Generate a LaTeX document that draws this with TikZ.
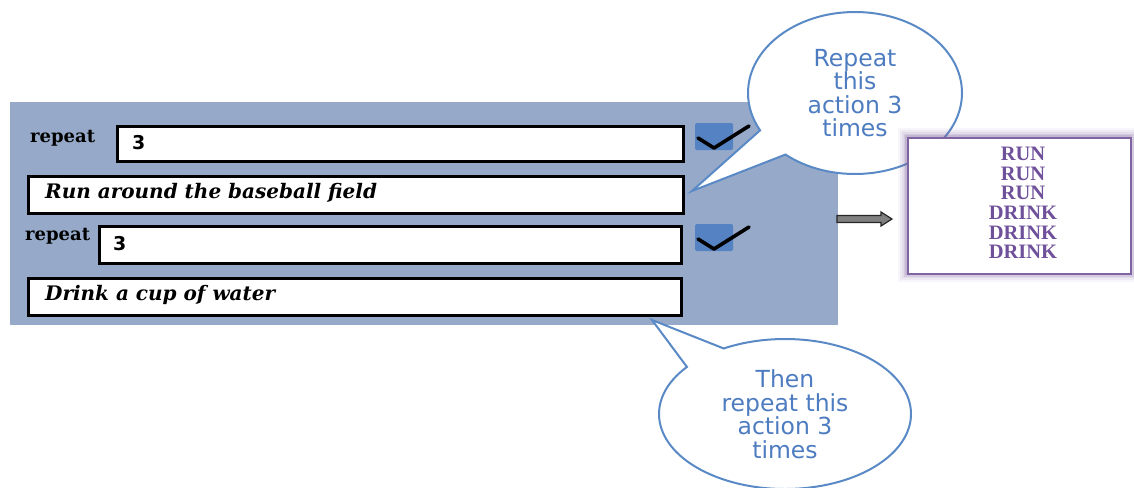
\documentclass[tikz,border=0pt]{standalone}
\usepackage{fontspec}
\setmainfont{Liberation Serif}
\newfontfamily\calloutfont{DejaVu Sans}
\newfontfamily\boxserif{DejaVu Serif}
\usetikzlibrary{shapes.callouts,calc}
\definecolor{panelblue}{HTML}{96A9C9}
\definecolor{calloutblue}{HTML}{5A8AC6}
\definecolor{callouttext}{HTML}{4E7CC0}
\definecolor{checkblue}{HTML}{5482C2}
\definecolor{outpurple}{HTML}{8064A2}
\definecolor{outtext}{HTML}{6F509A}
\tikzset{
  inbox/.style={draw=black, line width=3pt, fill=white, anchor=north west, inner sep=0pt},
  lbl/.style={font=\boxserif\fontsize{18}{20}\selectfont\bfseries, anchor=west, inner sep=0pt},
  itext/.style={font=\boxserif\fontsize{20}{22}\selectfont\bfseries\itshape, anchor=west, inner sep=0pt},
  numtext/.style={font=\calloutfont\fontsize{19}{21}\selectfont\bfseries, anchor=west, inner sep=0pt},
  bubble/.style={ellipse callout, draw=calloutblue, line width=2pt, fill=white,
     text=callouttext, align=center, inner sep=0pt,
     font=\calloutfont\fontsize{23.5}{23.5}\selectfont},
  checksq/.style={fill=checkblue, rounded corners=2pt},
  checkline/.style={line width=3.6pt, black, line cap=round, line join=round},
}
\begin{document}
\begin{tikzpicture}[x=1pt,y=-1pt]
\useasboundingbox (0,0) rectangle (1134,487);
% panel
\fill[panelblue] (10,102) rectangle (838,325);
% boxes with shadow
\foreach \xa/\ya/\xb/\yb in {116/125/682/160, 27/175/682/212, 98/225/680/262, 27/277/680/314}{
  \fill[black!45, opacity=0.5] (\xa+2,\ya+3) rectangle (\xb+3,\yb+3);
}
\node[inbox, minimum width=566pt, minimum height=35pt] (b1) at (116,125) {};
\node[inbox, minimum width=655pt, minimum height=37pt] (b2) at (27,175) {};
\node[inbox, minimum width=582pt, minimum height=37pt] (b3) at (98,225) {};
\node[inbox, minimum width=653pt, minimum height=37pt] (b4) at (27,277) {};
\node[lbl] (r1) at (30,138) {repeat};
\node[lbl] (r2) at (25,236) {repeat};
\node[numtext] (n1) at (132,143) {3};
\node[numtext] (n2) at (113,244) {3};
\node[itext] (t2) at (45,193) {Run around the baseball field};
\node[itext] (t4) at (45,295) {Drink a cup of water};
% checkmarks
\fill[checksq] (695,123) rectangle (733,150);
\draw[checkline] (698,138) -- (714,148) -- (749,126);
\fill[checksq] (695,224) rectangle (733,251);
\draw[checkline] (698,239) -- (714,249) -- (749,227);
% callouts
\coordinate (p1) at (692,191);
\coordinate (p2) at (652,320);
\node[bubble, minimum width=214pt, minimum height=162pt, callout absolute pointer={(p1)}, callout pointer arc=22] (c1) at (855,93) {Repeat\\this\\action 3\\times};
\node[bubble, minimum width=252pt, minimum height=150pt, callout absolute pointer={(p2)}, callout pointer arc=22] (c2) at (785,414) {Then\\repeat this\\action 3\\times};
% output glow
\foreach \w/\o in {18/0.06,14/0.08,10/0.10,7/0.14,4/0.2}{
  \draw[outpurple, line width=\w pt, opacity=\o] (907,137) rectangle (1130,273);
}
\node[draw=outpurple, line width=2.4pt, fill=white, anchor=north west, minimum width=223pt, minimum height=136pt, inner sep=0pt] (out) at (907,137) {};
\node[text=outtext, align=center, font=\fontsize{20.5}{19.6}\selectfont\bfseries, anchor=center, inner sep=0pt] (outtxt) at (1023,203) {RUN\\RUN\\RUN\\DRINK\\DRINK\\DRINK};
% block arrow
\coordinate (a0) at (837,219);
\coordinate (a1) at (892,219);
\draw[black!85, fill=black!50, line width=1.2pt, line join=miter]
  ($(a0)+(0,-3.5)$) -- ($(a1)+(-11,-3.5)$) -- ($(a1)+(-11,-7)$) -- (a1) -- ($(a1)+(-11,7)$) -- ($(a1)+(-11,3.5)$) -- ($(a0)+(0,3.5)$) -- cycle;
\end{tikzpicture}
\end{document}
